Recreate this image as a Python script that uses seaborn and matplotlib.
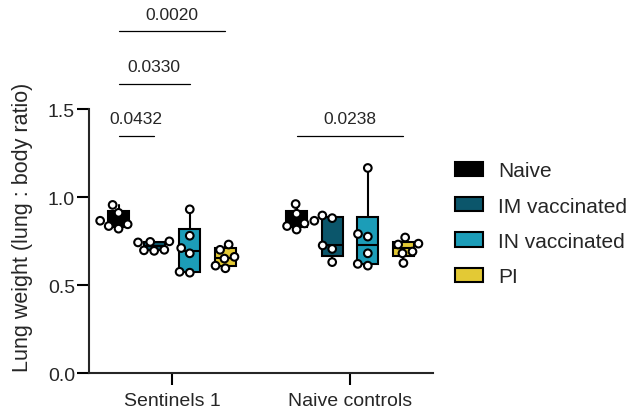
import numpy as np
import pandas as pd
import seaborn as sns
import matplotlib.pyplot as plt
from matplotlib.patches import Patch

# data
groups = ['Sentinels 1', 'Naive controls']
treatments = ['Naive', 'IM vaccinated', 'IN vaccinated', 'PI']
colors = ['#000000', '#0b566b', '#1c9db8', '#e3c935']

s1_naive = [0.955, 0.91, 0.865, 0.845, 0.835, 0.82]
s1_im = [0.748, 0.745, 0.742, 0.70, 0.697, 0.694]
s1_in = [0.93, 0.78, 0.71, 0.68, 0.575, 0.57]
s1_pi = [0.73, 0.70, 0.66, 0.65, 0.61, 0.595]
nc_naive = [0.96, 0.905, 0.865, 0.85, 0.835, 0.815]
nc_im = [0.895, 0.88, 0.725, 0.705, 0.63]
nc_in = [1.165, 0.79, 0.775, 0.68, 0.62, 0.61]
nc_pi = [0.77, 0.735, 0.73, 0.69, 0.68, 0.625]

values = {
    ('Sentinels 1', 'Naive'): s1_naive,
    ('Sentinels 1', 'IM vaccinated'): s1_im,
    ('Sentinels 1', 'IN vaccinated'): s1_in,
    ('Sentinels 1', 'PI'): s1_pi,
    ('Naive controls', 'Naive'): nc_naive,
    ('Naive controls', 'IM vaccinated'): nc_im,
    ('Naive controls', 'IN vaccinated'): nc_in,
    ('Naive controls', 'PI'): nc_pi,
}

# (group, first treatment, second treatment, p-value)
comparisons = [
    ('Sentinels 1', 'Naive', 'IM vaccinated', '0.0432'),
    ('Sentinels 1', 'Naive', 'IN vaccinated', '0.0330'),
    ('Sentinels 1', 'Naive', 'PI', '0.0020'),
    ('Naive controls', 'Naive', 'PI', '0.0238'),
]
bracket_y = [1.348, 1.642, 1.941, 1.348]

rows = []
for (g, t), vals in values.items():
    for v in vals:
        rows.append({'group': g, 'treatment': t, 'ratio': v})
df = pd.DataFrame(rows)

sns.set_theme(style='ticks')
plt.rcParams['font.family'] = ['Liberation Sans', 'DejaVu Sans']

fig = plt.figure(figsize=(6.37, 4.1), dpi=100)
ax = fig.add_axes([0.1397, 0.0878, 0.540, 0.9122])

offsets = (np.arange(len(treatments)) - (len(treatments) - 1) / 2) * 0.2


def pos(g, t):
    return groups.index(g) + offsets[treatments.index(t)]


# boxes: min-max whiskers, Prism-style quartiles
stats, positions, fills = [], [], []
for (g, t), vals in values.items():
    q1, med, q3 = np.percentile(vals, [25, 50, 75], method='weibull')
    stats.append({'whislo': min(vals), 'q1': q1, 'med': med, 'q3': q3,
                  'whishi': max(vals), 'fliers': []})
    positions.append(pos(g, t))
    fills.append(colors[treatments.index(t)])

bp = ax.bxp(stats, positions=positions, widths=0.118, patch_artist=True,
            showcaps=False, showfliers=False, manage_ticks=False,
            boxprops=dict(linewidth=1.5, edgecolor='black'),
            medianprops=dict(color='black', linewidth=1.5),
            whiskerprops=dict(color='black', linewidth=1.5), zorder=2)
for patch, c in zip(bp['boxes'], fills):
    patch.set_facecolor(c)

sns.swarmplot(data=df, x='group', y='ratio', hue='treatment', order=groups,
              hue_order=treatments, dodge=True, palette=['white'] * 4,
              size=5.5, linewidth=1.5, edgecolor='black', legend=False,
              ax=ax, zorder=3)

# significance brackets
for (g, t1, t2, p), y in zip(comparisons, bracket_y):
    x1, x2 = pos(g, t1), pos(g, t2)
    ax.plot([x1, x2], [y, y], color='black', linewidth=0.9, clip_on=False)
    ax.text((x1 + x2) / 2, y + 0.055, p, ha='center', va='bottom',
            fontsize=12.5, clip_on=False)

ax.set_xlim(-0.466, 1.466)
ax.set_ylim(0, 2.125)
ax.set_yticks([0, 0.5, 1.0, 1.5])
ax.set_yticklabels(['0.0', '0.5', '1.0', '1.5'])
ax.spines['left'].set_bounds(0, 1.5)
for side in ['top', 'right']:
    ax.spines[side].set_visible(False)
for side in ['left', 'bottom']:
    ax.spines[side].set_linewidth(1.5)
ax.tick_params(axis='both', length=8.5, width=1.5, labelsize=14, color='black')
ax.tick_params(axis='x', pad=5)
ax.tick_params(axis='y', pad=1.5)
ax.set_xlabel('')
ax.set_ylabel('Lung weight (lung : body ratio)', fontsize=15.5)
ax.yaxis.set_label_coords(-0.163, 0.392)

handles = [Patch(facecolor=c, edgecolor='black', linewidth=1.5) for c in colors]
fig.legend(handles, treatments, loc='upper left', bbox_to_anchor=(0.7143, 0.604),
           frameon=False, fontsize=15, borderpad=0, borderaxespad=0,
           handlelength=1.35, handleheight=0.68, handletextpad=0.72,
           labelspacing=0.78)

fig.savefig('out.png', dpi=100)
